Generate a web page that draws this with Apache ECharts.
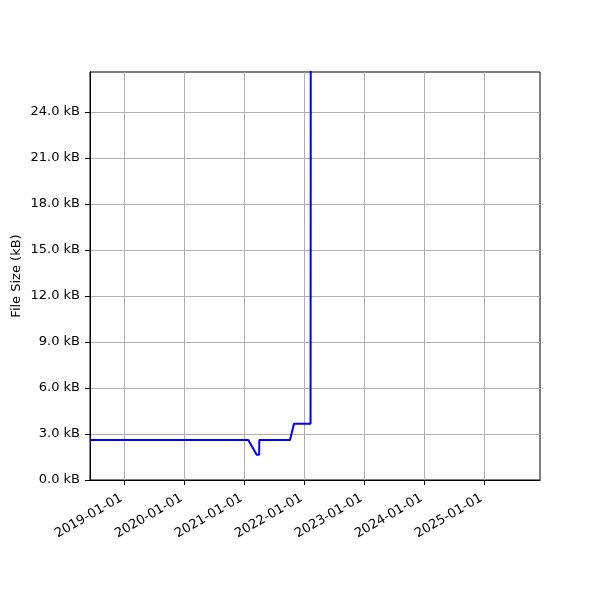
<!DOCTYPE html>
<html><head><meta charset="utf-8">
<script src="https://cdn.jsdelivr.net/npm/echarts@6/dist/echarts.min.js"></script>
<style>html,body{margin:0;padding:0;background:#fff}#c{width:600px;height:600px}</style>
</head><body><div id="c"></div>
<script>
const dates = ['2018-06-06','2021-01-25','2021-03-17','2021-04-01','2021-04-02','2021-10-06','2021-10-30','2022-02-08','2022-02-09','2022-02-10'];
const sizesKB = [2.61,2.61,1.65,1.65,2.61,2.61,3.67,3.67,22.3,60];
const xTickLabels = ['2019-01-01','2020-01-01','2021-01-01','2022-01-01','2023-01-01','2024-01-01','2025-01-01'];
const yTicks = [0,3,6,9,12,15,18,21,24];
const xMin = '2018-06-06', xMax = '2025-12-06';
const yMax = 26.6;

const ts = s => new Date(s + 'T00:00:00Z').getTime();
const chart = echarts.init(document.getElementById('c'));
const font = 'DejaVu Sans';
chart.setOption({
  animation: false,
  grid: {left: 90, right: 60, top: 72, bottom: 120, containLabel: false, outerBoundsMode: 'none',
    show: true, borderColor: '#000', borderWidth: 1, backgroundColor: 'transparent'},
  xAxis: {
    type: 'value', min: ts(xMin), max: ts(xMax), scale: true,
    axisLine: {show: true, onZero: false, lineStyle: {color: '#000', width: 1}},
    axisTick: {show: true, length: 5, inside: false, lineStyle: {color: '#000'}, customValues: xTickLabels.map(ts)},
    axisLabel: {customValues: xTickLabels.map(ts), rotate: 30, fontFamily: font, fontSize: 13, color: '#000', margin: 8,
      align: 'right', verticalAlign: 'top', padding: [0, 7, 0, 0],
      formatter: v => new Date(v).toISOString().slice(0,10)},
    splitLine: {show: true, lineStyle: {color: '#b0b0b0', width: 1}}
  },
  yAxis: {
    type: 'value', min: 0, max: yMax,
    name: 'File Size (kB)', nameLocation: 'middle', nameGap: 67, nameRotate: 90, nameMoveOverlap: false,
    nameTextStyle: {fontFamily: font, fontSize: 13, color: '#000'},
    axisLine: {show: true, lineStyle: {color: '#000', width: 1}},
    axisTick: {show: true, length: 5, lineStyle: {color: '#000'}, customValues: yTicks},
    axisLabel: {customValues: yTicks, fontFamily: font, fontSize: 13, color: '#000', margin: 10,
      formatter: v => v.toFixed(1) + ' kB'},
    splitLine: {show: true, lineStyle: {color: '#b0b0b0', width: 1}}
  },
  series: [{
    type: 'line', showSymbol: false, clip: true,
    data: dates.map((d, i) => [ts(d), sizesKB[i]]),
    lineStyle: {color: '#0000ff', width: 2}
  }]
});
</script></body></html>
